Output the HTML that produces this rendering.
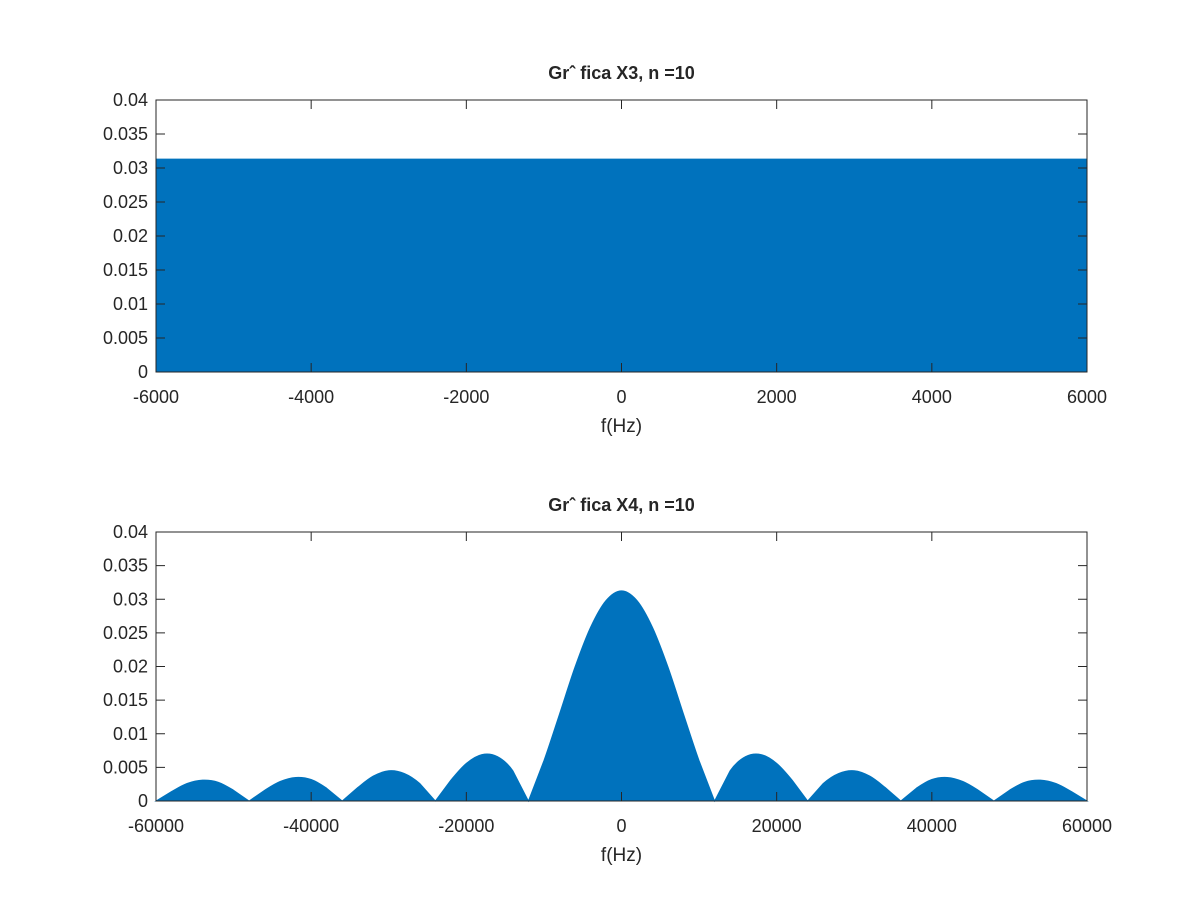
<!DOCTYPE html>
<html><head><meta charset="utf-8"><style>
body{margin:0;background:#fff;}
svg text{font-family:"Liberation Sans",sans-serif;fill:#262626;}
</style></head><body>
<svg id="chart" width="1200" height="900" viewBox="0 0 1200 900"></svg>
<script>
// Top plot data
const topFreq = [-6000, 6000];
const topMag = [0.0313, 0.0313];
const topXTicks = [-6000, -4000, -2000, 0, 2000, 4000, 6000];
// Bottom plot data
const botFreq = [-60000,-58000,-56000,-54000,-52000,-50000,-48000,-46000,-44000,-42000,-40000,-38000,-36000,-34000,-32000,-30000,-28000,-26000,-24000,-22000,-20000,-18000,-16000,-14000,-12000,-10000,-8000,-6000,-4000,-2000,0,2000,4000,6000,8000,10000,12000,14000,16000,18000,20000,22000,24000,26000,28000,30000,32000,34000,36000,38000,40000,42000,44000,46000,48000,50000,52000,54000,56000,58000,60000];
const botMag = [0,0.0014,0.0026,0.0031,0.0028,0.0016,0,0.0016,0.0029,0.0035,0.0032,0.0019,0,0.002,0.0037,0.0045,0.0041,0.0026,0,0.0031,0.0056,0.0069,0.0066,0.0045,0,0.006,0.0129,0.0199,0.0258,0.0298,0.03125,0.0298,0.0258,0.0199,0.0129,0.006,0,0.0045,0.0066,0.0069,0.0056,0.0031,0,0.0026,0.0041,0.0045,0.0037,0.002,0,0.0019,0.0032,0.0035,0.0029,0.0016,0,0.0016,0.0028,0.0031,0.0026,0.0014,0];
const botXTicks = [-60000,-40000,-20000,0,20000,40000,60000];
const yTicks = [0,0.005,0.01,0.015,0.02,0.025,0.03,0.035,0.04];
const yTickLabels = ["0","0.005","0.01","0.015","0.02","0.025","0.03","0.035","0.04"];

const svg = document.getElementById('chart');
const NS = 'http://www.w3.org/2000/svg';
function mk(tag, attrs, parent){const e=document.createElementNS(NS,tag);for(const k in attrs)e.setAttribute(k,attrs[k]);(parent||svg).appendChild(e);return e;}

function drawPanel(cfg){
  const L=156,R=1087,T=cfg.top,B=cfg.bottom;
  const g=mk('g',{});
  
  
  const xs=v=>L+(v-cfg.xmin)/(cfg.xmax-cfg.xmin)*(R-L);
  const ys=v=>B-(v-0)/(0.04)*(B-T);
  // area with smooth curve through points
  const n=cfg.fx.length;
  let d='M'+xs(cfg.fx[0])+','+ys(0)+' L'+xs(cfg.fx[0])+','+ys(cfg.fy[0]);
  for(let i=1;i<n;i++){
    const x0=xs(cfg.fx[i-1]),y0=ys(cfg.fy[i-1]),x1=xs(cfg.fx[i]),y1=ys(cfg.fy[i]);
    if(cfg.fy[i-1]===0||cfg.fy[i]===0||n<3){d+=' L'+x1+','+y1;continue;}
    const pm=i>=2&&cfg.fy[i-2]!==undefined?[xs(cfg.fx[i-2]),ys(cfg.fy[i-2])]:[x0,y0];
    const pp=i+1<n?[xs(cfg.fx[i+1]),ys(cfg.fy[i+1])]:[x1,y1];
    const c1x=x0+(x1-pm[0])/6,c1y=y0+(y1-pm[1])/6,c2x=x1-(pp[0]-x0)/6,c2y=y1-(pp[1]-y0)/6;
    d+=' C'+c1x+','+c1y+' '+c2x+','+c2y+' '+x1+','+y1;
  }
  d+=' L'+xs(cfg.fx[n-1])+','+ys(0)+' Z';
  const p=mk('path',{d:d,fill:'#0072BD',stroke:'#0072BD','stroke-width':1},g);
  
  
  const box=mk('rect',{x:L,y:T,width:R-L,height:B-T,fill:'none',stroke:'#262626','stroke-width':1},g);
  
  
  cfg.xt.forEach(v=>{
    const x=xs(v);
    mk('line',{x1:x,x2:x,y1:B,y2:B-9,stroke:'#262626'},g);
    mk('line',{x1:x,x2:x,y1:T,y2:T+9,stroke:'#262626'},g);
    const t=mk('text',{x:x,y:B+31,'text-anchor':'middle','font-size':18},g);
    t.textContent=String(v);
    
    
  });
  yTicks.forEach((v,i)=>{
    const y=ys(v);
    mk('line',{x1:L,x2:L+9,y1:y,y2:y,stroke:'#262626'},g);
    mk('line',{x1:R,x2:R-9,y1:y,y2:y,stroke:'#262626'},g);
    const t=mk('text',{x:L-8,y:y+6,'text-anchor':'end','font-size':18},g);
    t.textContent=yTickLabels[i];
    
    
  });
  const xl=mk('text',{x:(L+R)/2,y:B+60,'text-anchor':'middle','font-size':19},g);
  xl.textContent='f(Hz)';
  
  
  const ti=mk('text',{x:(L+R)/2,y:T-21,'text-anchor':'middle','font-size':18,'font-weight':'bold'},g);
  ti.textContent=cfg.title;
  
  
}
drawPanel({name:'top-plot',top:100,bottom:372,xmin:-6000,xmax:6000,fx:topFreq,fy:topMag,xt:topXTicks,title:'Grˆ fica X3, n =10'});
drawPanel({name:'bottom-plot',top:532,bottom:801,xmin:-60000,xmax:60000,fx:botFreq,fy:botMag,xt:botXTicks,title:'Grˆ fica X4, n =10'});
</script>
</body></html>
